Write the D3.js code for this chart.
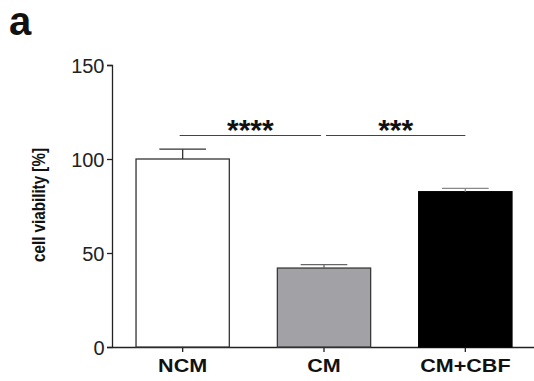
<!DOCTYPE html>
<html><head><meta charset="utf-8">
<script src="https://cdn.jsdelivr.net/npm/d3@7"></script>
<style>body{margin:0;background:#fff;} svg{display:block;}</style>
</head><body>
<script>
const categories = ["NCM", "CM", "CM+CBF"];
const values = [100, 42, 82.6];
const errors = [5.2, 1.8, 1.8];
const yTicks = [0, 50, 100, 150];
const comparisons = [
  {from: "NCM", to: "CM", label: "****"},
  {from: "CM", to: "CM+CBF", label: "***"}
];
const fills = ["#ffffff", "#a2a2a6", "#000000"];
const strokes = ["#333333", "#3a3a3a", "#000000"];
const errColors = ["#333333", "#666666", "#888888"];

const W = 534, H = 381;
const svg = d3.select("body").append("svg").attr("width", W).attr("height", H);
const font = "Liberation Sans, Arial, sans-serif";

const y = d3.scaleLinear().domain([0, 150]).range([347, 65]);
const x = d3.scaleBand().domain(categories).range([112, 536]).paddingInner(0.34).paddingOuter(0.17);

// panel label
svg.append("text").attr("x", 9).attr("y", 35).attr("font-family", font)
  .attr("font-weight", "bold").attr("font-size", 40).attr("fill", "#111").text("a");

// y axis
const yAxis = svg.append("g").attr("transform", "translate(112,0)")
  .call(d3.axisLeft(y).tickValues(yTicks).tickSize(5).tickPadding(2.5));
yAxis.select(".domain").attr("stroke", "#222").attr("stroke-width", 1.3);
yAxis.selectAll(".tick line").attr("stroke", "#222").attr("stroke-width", 1.3);
yAxis.selectAll("text").attr("font-family", font).attr("font-size", 20).attr("fill", "#222")
  .attr("dy", "0.36em");

// x axis
const xAxis = svg.append("g").attr("transform", "translate(0,347)")
  .call(d3.axisBottom(x).tickSize(5).tickSizeOuter(0).tickPadding(6));
xAxis.select(".domain").attr("stroke", "#222").attr("stroke-width", 1.3);
xAxis.selectAll(".tick line").attr("stroke", "#222").attr("stroke-width", 1.3);
xAxis.selectAll("text").attr("font-family", font).attr("font-size", 18.6).attr("font-weight", "bold")
  .attr("fill", "#111").attr("y", 24.7).attr("dy", null).attr("transform", "scale(1.16,1)");

// y label
svg.append("text").attr("transform", "translate(45,205) rotate(-90) scale(1,1.18)")
  .attr("text-anchor", "middle").attr("font-family", font).attr("font-weight", "bold")
  .attr("font-size", 15.2).attr("fill", "#111").text("cell viability [%]");

// bars
const bw = x.bandwidth();
svg.selectAll("rect.bar").data(categories).join("rect").attr("class", "bar")
  .attr("x", d => x(d)).attr("width", bw)
  .attr("y", (d, i) => y(values[i])).attr("height", (d, i) => y(0) - y(values[i]))
  .attr("fill", (d, i) => fills[i]).attr("stroke", (d, i) => strokes[i]).attr("stroke-width", 1.3);

// error bars
const cap = bw * 0.5;
categories.forEach((c, i) => {
  const cx = x(c) + bw / 2;
  const g = svg.append("g").attr("stroke", errColors[i]).attr("stroke-width", 1.3);
  g.append("line").attr("x1", cx).attr("x2", cx).attr("y1", y(values[i])).attr("y2", y(values[i] + errors[i]));
  g.append("line").attr("x1", cx - cap / 2).attr("x2", cx + cap / 2)
    .attr("y1", y(values[i] + errors[i])).attr("y2", y(values[i] + errors[i]));
});

// significance
const sigY = 135.5;
comparisons.forEach((cmp, k) => {
  const x1 = x(cmp.from) + bw / 2 + (k === 0 ? -3 : 2);
  const x2 = x(cmp.to) + bw / 2 + (k === 0 ? -3 : 0);
  svg.append("line").attr("x1", x1).attr("x2", x2).attr("y1", sigY).attr("y2", sigY)
    .attr("stroke", "#444").attr("stroke-width", 1.2);
  svg.append("text").attr("x", (x1 + x2) / 2).attr("y", sigY + 4.5).attr("text-anchor", "middle")
    .attr("font-family", font).attr("font-weight", "bold").attr("font-size", 30).attr("fill", "#111").text(cmp.label);
});
</script>
</body></html>
